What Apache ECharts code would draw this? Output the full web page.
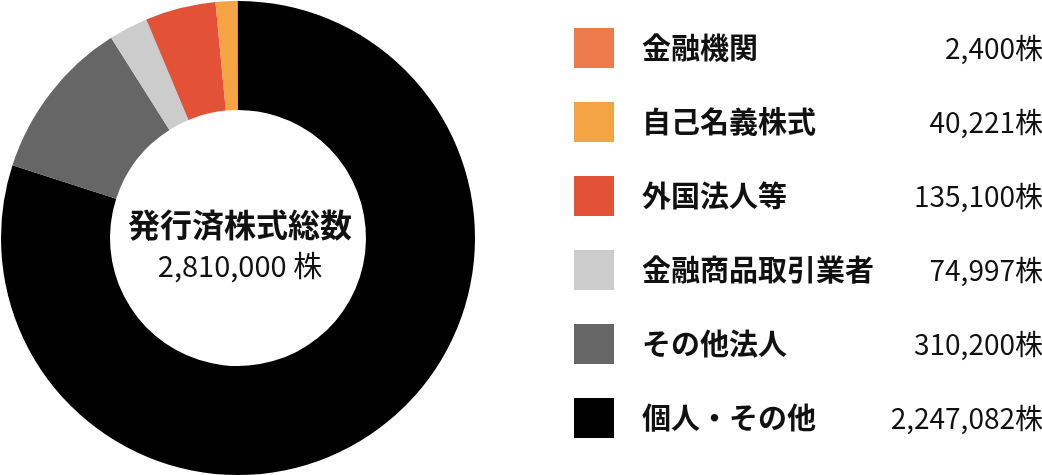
<!DOCTYPE html>
<html lang="ja">
<head>
    <meta charset="UTF-8">
    <title>株式分布</title>
    <script src="https://cdn.jsdelivr.net/npm/echarts@6/dist/echarts.min.js"></script>
    <style>
        html, body { margin: 0; padding: 0; background: #fff; }
    </style>
</head>
<body>
<div id="main" style="width: 1042px;height:475px;"></div>
<script type="text/javascript">
    // 円グラフの並び（12時から時計回り）
    var names = ['個人・その他', 'その他法人', '金融商品取引業者', '外国法人等', '自己名義株式', '金融機関'];
    var shares = [2247082, 310200, 74997, 135100, 40221, 2400];
    var colors = ['#000000', '#666666', '#cccccc', '#e35237', '#f4a442', '#ee7b4c'];
    // 凡例の並び
    var legendOrder = ['金融機関', '自己名義株式', '外国法人等', '金融商品取引業者', 'その他法人', '個人・その他'];
    var totalLabel = '発行済株式総数';

    var font = '"Noto Sans CJK JP", "Noto Sans", sans-serif';
    var total = shares.reduce(function (a, b) { return a + b; }, 0);
    var data = [];
    for (var i = 0; i < names.length; i++) {
        data.push({value: shares[i], name: names[i], itemStyle: {color: colors[i]}});
    }
    function fmt(v) {
        return v.toString().replace(/\B(?=(\d{3})+(?!\d))/g, ',');
    }

    var myChart = echarts.init(document.getElementById('main'));
    myChart.setOption({
        animation: false,
        title: {
            text: totalLabel,
            subtext: fmt(total) + ' 株',
            left: 235,
            top: 204,
            textAlign: 'center',
            itemGap: 10,
            textStyle: {fontFamily: font, fontSize: 32, fontWeight: 'bold', color: '#111'},
            subtextStyle: {fontFamily: font, fontSize: 29, color: '#111'}
        },
        legend: {
            orient: 'vertical',
            left: 574,
            top: 28,
            padding: 0,
            icon: 'rect',
            itemWidth: 40,
            itemHeight: 40,
            itemGap: 34,
            selectedMode: false,
            data: legendOrder,
            formatter: function (name) {
                var v = shares[names.indexOf(name)];
                return '{n|' + name + '}{v|' + fmt(v) + '株}';
            },
            textStyle: {
                fontFamily: font,
                rich: {
                    n: {fontFamily: font, fontSize: 29, fontWeight: 'bold', color: '#111', width: 230, padding: [0, 0, 0, 23]},
                    v: {fontFamily: font, fontSize: 28, color: '#111', width: 171, align: 'right'}
                }
            }
        },
        series: [
            {
                type: 'pie',
                center: [238, 238],
                radius: [128, 237],
                startAngle: 90,
                clockwise: true,
                silent: true,
                label: {show: false},
                labelLine: {show: false},
                data: data
            }
        ]
    });
</script>
</body>
</html>
